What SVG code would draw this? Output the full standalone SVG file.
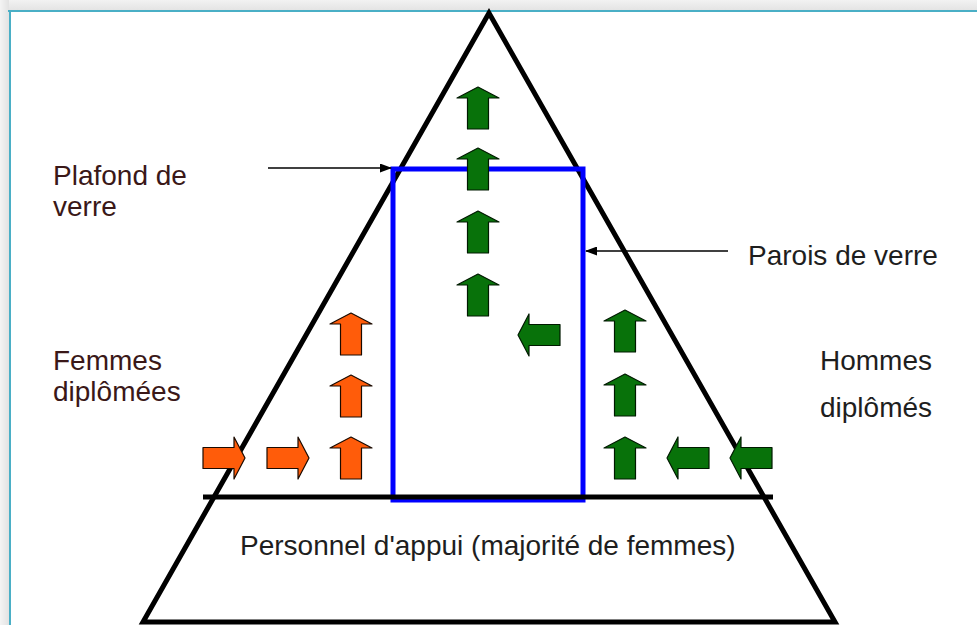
<svg xmlns="http://www.w3.org/2000/svg" xmlns:xlink="http://www.w3.org/1999/xlink" width="977" height="625" viewBox="0 0 977 625">
<style>
.lbl{font-family:"Liberation Sans",Arial,sans-serif;font-size:28px;fill:#1e1e1e}
.lblL{fill:#3a1818}
.org{fill:#ff5c0a;stroke:#1a0a00;stroke-width:1.2;stroke-linejoin:round}
.grn{fill:#08720a;stroke:#001a00;stroke-width:1.2;stroke-linejoin:round}
.thin{stroke:#000;stroke-width:1.6;fill:none}
</style>
<defs>
<linearGradient id="gtop" x1="0" y1="0" x2="0" y2="1"><stop offset="0" stop-color="#f2f2f2"/><stop offset="1" stop-color="#e4e4e4"/></linearGradient>
<linearGradient id="gleft" x1="0" y1="0" x2="1" y2="0"><stop offset="0" stop-color="#f4f4f4"/><stop offset="1" stop-color="#e2e2e2"/></linearGradient>
<path id="up" d="M0,0 L21,11 L10.5,11 L10.5,42 L-10.5,42 L-10.5,11 L-21,11 Z"/>
<marker id="ah" markerWidth="12" markerHeight="9" refX="11" refY="4.5" orient="auto" markerUnits="userSpaceOnUse"><path d="M0,0 L12,4.5 L0,9 Z" fill="#000"/></marker>
</defs>
<rect width="977" height="625" fill="#ffffff"/>
<rect x="0" y="0" width="977" height="10" fill="url(#gtop)"/>
<rect x="0" y="0" width="9" height="625" fill="url(#gleft)"/>
<line x1="8" y1="11" x2="977" y2="11" stroke="#4aafc6" stroke-width="2"/>
<line x1="10" y1="10" x2="10" y2="625" stroke="#4aafc6" stroke-width="2"/>

<g id="pyramid">
<polygon points="489,13 143,622 835,622" fill="none" stroke="#000" stroke-width="5" stroke-linejoin="miter"/>
</g>
<g id="glass-walls">
<rect x="393" y="169" width="190" height="331" fill="none" stroke="#0000ff" stroke-width="5"/>
</g>
<g id="base-line">
<line x1="203" y1="497" x2="773" y2="497" stroke="#000" stroke-width="5"/>
</g>

<g id="arrows-women">
<use xlink:href="#up" class="org" transform="translate(351,313)"/>
<use xlink:href="#up" class="org" transform="translate(351,375)"/>
<use xlink:href="#up" class="org" transform="translate(351,437)"/>
<use xlink:href="#up" class="org" transform="translate(245,458) rotate(90)"/>
<use xlink:href="#up" class="org" transform="translate(309,458) rotate(90)"/>
</g>
<g id="arrows-men">
<use xlink:href="#up" class="grn" transform="translate(478,87)"/>
<use xlink:href="#up" class="grn" transform="translate(478,148)"/>
<use xlink:href="#up" class="grn" transform="translate(478,211)"/>
<use xlink:href="#up" class="grn" transform="translate(478,274)"/>
<use xlink:href="#up" class="grn" transform="translate(518,335) rotate(-90)"/>
<use xlink:href="#up" class="grn" transform="translate(625,310)"/>
<use xlink:href="#up" class="grn" transform="translate(625,374)"/>
<use xlink:href="#up" class="grn" transform="translate(625,437)"/>
<use xlink:href="#up" class="grn" transform="translate(667,458) rotate(-90)"/>
<use xlink:href="#up" class="grn" transform="translate(730,458) rotate(-90)"/>
</g>

<g id="connectors">
<line class="thin" x1="268" y1="168" x2="391" y2="168" marker-end="url(#ah)"/>
<line class="thin" x1="728" y1="251" x2="586" y2="251" marker-end="url(#ah)"/>
</g>

<g id="label-plafond">
<text class="lbl lblL" x="53" y="185">Plafond de</text>
<text class="lbl lblL" x="53" y="216">verre</text>
</g>
<g id="label-parois">
<text class="lbl" x="748" y="265">Parois de verre</text>
</g>
<g id="label-femmes">
<text class="lbl lblL" x="53" y="370">Femmes</text>
<text class="lbl lblL" x="53" y="401">diplômées</text>
</g>
<g id="label-hommes">
<text class="lbl" x="820" y="370">Hommes</text>
<text class="lbl" x="820" y="417">diplômés</text>
</g>
<g id="label-personnel">
<text class="lbl" x="240" y="555">Personnel d'appui (majorité de femmes)</text>
</g>
</svg>
